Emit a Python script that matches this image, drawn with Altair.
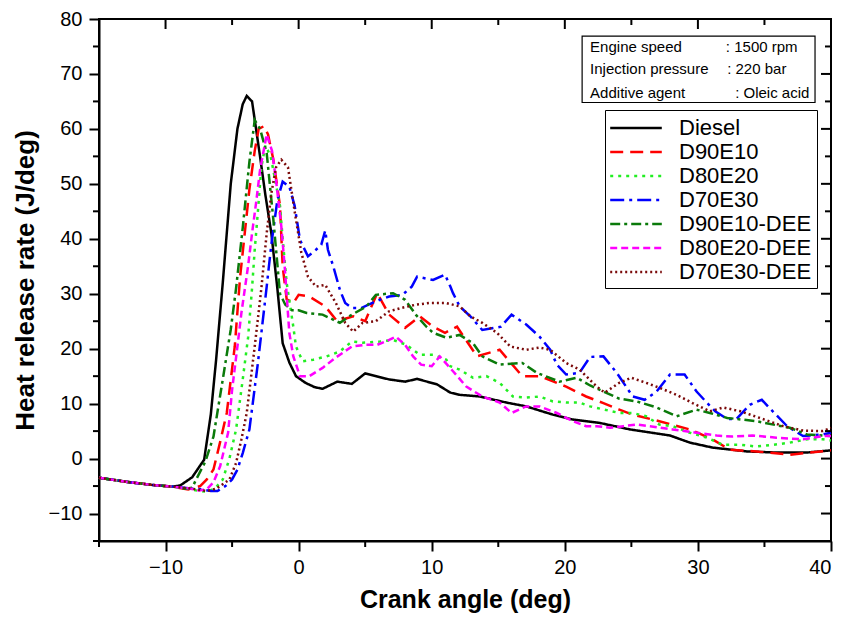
import altair as alt
import pandas as pd

series_names = ["Diesel", "D90E10", "D80E20", "D70E30", "D90E10-DEE", "D80E20-DEE", "D70E30-DEE"]
series_colors = ["#000000", "#ff0000", "#22ee22", "#0000ff", "#0a7a0a", "#ff00ff", "#7b0a0a"]
series_dashes = [[1, 0], [13, 7], [3, 5], [14, 5, 3, 5], [10, 4, 3, 4], [7, 4], [2, 3]]

diesel_x = [-15, -13, -11, -9.5, -8.9, -8, -7.1, -6.6, -6.2, -5.7, -5.1, -4.6, -4.2, -3.9, -3.5, -2.9, -2.5, -2.05, -1.6, -1.2, -0.7, -0.2, 0.5, 1.2, 1.8, 2.9, 4.0, 5.0, 6.8, 8.0, 8.9, 10.4, 11.4, 12.1, 13.6, 15.6, 17.1, 19.1, 20.6, 22.6, 24.9, 27.9, 29.4, 31.1, 33.7, 35.9, 38.2, 40]
diesel_y = [-3.5, -4.2, -4.8, -5.1, -4.9, -3.4, -0.2, 8, 18, 32, 50, 60, 64.5, 66, 65, 55, 48, 41, 31, 21, 17.5, 15, 13.8, 13, 12.7, 14, 13.6, 15.5, 14.4, 14, 14.5, 13.5, 12, 11.6, 11.3, 10.2, 9.5, 8, 7.1, 6.5, 5.3, 4.2, 2.9, 2, 1.3, 1.1, 1.1, 1.5]

d90e10_x = [-15, -13, -11, -9.5, -8.3, -7.4, -6.9, -6.4, -5.9, -5.4, -4.8, -4.4, -3.7, -3.3, -3.0, -2.6, -2.3, -1.9, -1.4, -1.2, -0.9, -0.4, 0, 0.8, 2.0, 2.9, 4.1, 5.0, 5.9, 6.8, 8.0, 9.1, 10.1, 11.0, 11.9, 13.4, 15.1, 16.8, 18.1, 20.1, 21.6, 22.9, 24.1, 25.1, 27.1, 29.4, 31.1, 32.4, 34.4, 36.9, 39.2, 40]
d90e10_y = [-3.5, -4.2, -4.8, -5.1, -5.6, -5.0, -3.8, -2, 3, 8.3, 20.4, 33, 49, 56, 60, 60.5, 59, 54.4, 46, 35, 29, 28.3, 29.8, 29.5, 27.7, 25, 25.9, 25, 30.1, 26.2, 23.8, 25.9, 24, 22.9, 24, 18.6, 19.8, 15, 15, 13.1, 11.3, 10.1, 8.9, 8, 6.8, 5.3, 3.5, 1.6, 1.3, 0.7, 1.3, 1.5]

d80e20_x = [-15, -13, -11, -9.5, -8.3, -7.5, -6.9, -6.3, -5.7, -5.2, -4.7, -4.2, -3.8, -3.5, -3.3, -3.06, -2.8, -2.5, -2.1, -1.4, -1.2, -0.9, -0.4, -0.2, 0.3, 1.1, 2.1, 3.1, 4.0, 4.8, 6.1, 7.1, 8.1, 9.1, 10.1, 11.1, 11.4, 12.1, 13.1, 14.1, 15.1, 16.1, 17.1, 18.1, 19.1, 20.1, 21.1, 21.9, 23.0, 24.1, 25.1, 26.1, 27.1, 28.1, 29.4, 30.7, 31.9, 33.2, 34.4, 35.6, 36.9, 38.2, 39.4, 40]
d80e20_y = [-3.5, -4.2, -4.8, -5.1, -5.5, -5.9, -6.0, -5.5, -3.8, 0, 5.3, 14.4, 22, 31, 38, 45, 53, 57, 55, 46, 40, 32, 24, 20.4, 17.7, 18, 18.6, 19.5, 21.3, 21.1, 21.3, 21.6, 20.7, 18.9, 18.9, 18, 16.8, 16.2, 14.7, 15, 13.8, 11.3, 11.1, 11.3, 10.4, 10.2, 10.2, 9.5, 8.9, 8.3, 8.3, 7.7, 6.2, 5.9, 4.7, 3.8, 2.5, 2.5, 2.2, 2.5, 2.9, 3.5, 3.5, 3.3]

d70e30_x = [-15, -13, -11, -9.5, -8.3, -7.3, -6.6, -6.1, -5.5, -5.0, -4.6, -4.2, -3.7, -3.06, -2.4, -2.05, -1.6, -1.2, -0.7, -0.3, 0.1, 0.7, 1.3, 1.7, 2.0, 2.2, 2.6, 3.1, 3.5, 4.0, 4.7, 5.5, 6.1, 6.8, 7.8, 8.5, 8.9, 10.1, 11.0, 11.4, 11.6, 12.1, 12.9, 13.8, 15.2, 16.0, 17.1, 18.1, 18.9, 19.4, 20.1, 21.1, 21.9, 22.9, 23.9, 24.6, 25.1, 26.0, 26.9, 27.9, 29.0, 29.9, 30.7, 31.3, 32.2, 32.9, 33.9, 34.8, 35.5, 36.7, 37.9, 39.4, 40]
d70e30_y = [-3.5, -4.2, -4.8, -5.1, -5.4, -5.6, -5.9, -5.9, -5.0, -3.8, -2.0, 1, 5.3, 17.4, 31.3, 39, 47, 50.4, 49.5, 46, 39.8, 36.8, 38, 38.9, 41.5, 38, 35, 30.7, 28.3, 27.4, 27.4, 28.3, 28.9, 29.5, 29.8, 31.3, 33.1, 32.5, 33.5, 31.3, 30.1, 27.7, 25.9, 23.4, 24, 26.2, 24.4, 22.2, 19.8, 17.1, 15.3, 15.6, 18.5, 18.6, 15.6, 13.1, 11.3, 10.7, 12.2, 15.3, 15.3, 12.2, 10.1, 8.6, 7.2, 7.2, 9.8, 10.7, 8.9, 5.9, 4.1, 4.4, 4.7]

d90e10dee_x = [-15, -13, -11, -9.5, -8.5, -8, -7.7, -7, -6.4, -5.7, -5.1, -4.7, -4.2, -3.7, -3.3, -2.9, -2.4, -1.9, -1.4, -1.0, -0.5, 0, 0.6, 1.8, 3.1, 4.0, 5.1, 5.8, 7.1, 8.0, 8.8, 9.6, 10.1, 11.1, 12.1, 13.1, 13.8, 15.1, 16.8, 17.9, 19.6, 20.9, 21.9, 22.9, 24.1, 25.4, 26.9, 28.4, 29.9, 30.9, 32.2, 34.4, 36.9, 38.2, 40]
d90e10dee_y = [-3.5, -4.2, -4.8, -5.1, -5.5, -5.3, -3.8, -0.5, 4, 14.4, 23.5, 31, 42, 54, 61.6, 60, 55.6, 43.5, 30, 28, 27, 27, 26.5, 26.2, 24.7, 26.2, 27.7, 29.8, 30.1, 28.9, 26.2, 24, 22.9, 22, 22.5, 21, 18.6, 17.1, 17.4, 15.6, 14, 14.7, 13.3, 12.2, 10.9, 10.4, 9.3, 7.7, 8.9, 8.3, 7.4, 6.8, 5.6, 4.4, 4.1]

d80e20dee_x = [-15, -13, -11, -9.5, -8.3, -7.5, -6.9, -6.4, -5.9, -5.3, -5.0, -4.6, -4.3, -3.8, -3.5, -3.2, -2.9, -2.4, -2.0, -1.7, -1.3, -1.05, -0.7, -0.4, 0.1, 0.8, 1.8, 2.8, 4.0, 5.0, 5.9, 6.8, 7.3, 8.0, 8.6, 9.2, 10.0, 10.6, 11.6, 12.6, 13.8, 15.1, 16.0, 17.1, 18.1, 19.4, 20.6, 21.6, 22.4, 23.4, 24.4, 25.4, 26.4, 28.1, 29.9, 31.4, 32.6, 34.1, 35.9, 37.9, 39.4, 40]
d80e20dee_y = [-3.5, -4.2, -4.8, -5.1, -5.4, -5.8, -5.6, -4.3, -1.4, 4.7, 12.5, 20.4, 26.5, 35, 41, 46.5, 52.5, 59, 56, 50.7, 42.2, 35, 22.9, 18.6, 15, 15, 16.5, 18.4, 20.4, 20.7, 20.7, 21.6, 22.2, 20.7, 18.6, 17.1, 16.8, 18.6, 15.9, 13.1, 11.3, 10.2, 8.3, 9.5, 9.5, 8.3, 6.8, 5.9, 5.9, 5.6, 5.9, 6.2, 5.9, 5.3, 4.7, 4.2, 4, 4.2, 3.8, 3.5, 4.1, 4.1]

d70e30dee_x = [-15, -13, -11, -9.5, -8.3, -7.5, -6.9, -6.2, -5.6, -5.2, -4.7, -4.3, -3.9, -3.3, -2.8, -2.4, -2.05, -1.7, -1.3, -0.8, -0.3, 0.2, 0.7, 1.3, 2.0, 2.8, 3.5, 4.1, 4.8, 5.8, 6.8, 7.7, 8.8, 9.8, 11.1, 12.1, 12.9, 13.8, 14.9, 15.9, 17.1, 18.1, 18.9, 20.1, 21.1, 22.4, 23.0, 24.1, 25.0, 26.1, 27.1, 28.4, 29.6, 30.9, 31.9, 33.2, 35.0, 36.4, 37.9, 39.4, 40]
d70e30dee_y = [-3.5, -4.2, -4.8, -5.1, -5.4, -5.7, -5.9, -5.5, -4.5, -3.8, -0.8, 3.5, 8.3, 20.4, 31, 41, 48.3, 53, 54.4, 53, 45, 37.5, 33.1, 31.3, 31.6, 28.3, 24.7, 23.1, 24.7, 25, 26.8, 27.4, 28, 28.3, 28.3, 27.7, 25.9, 24.7, 22.9, 20.4, 19.8, 20.2, 19.8, 17.4, 16.2, 13.1, 12, 13.8, 14.7, 13.8, 12.9, 11.6, 10.1, 8.6, 9.3, 8.6, 7.1, 5.9, 5.1, 5, 5.6]

x_major = [-10, 0, 10, 20, 30, 40]
x_minor = [-15, -5, 5, 15, 25, 35]
y_major = [-10, 0, 10, 20, 30, 40, 50, 60, 70, 80]
y_minor = [-15, -5, 5, 15, 25, 35, 45, 55, 65, 75]

info_left = ["Engine speed", "Injection pressure", "Additive agent"]
info_right = [": 1500 rpm", ": 220 bar", ": Oleic acid"]
info_y = [74.9, 70.9, 66.5]
info_left_x = 21.9
info_right_x = [32.1, 32.2, 32.8]
box_x = [21.3, 38.8]
box_y = [64.8, 76.9]

FONT = "Liberation Sans"
W, H = 732, 522

xs = [diesel_x, d90e10_x, d80e20_x, d70e30_x, d90e10dee_x, d80e20dee_x, d70e30dee_x]
ys = [diesel_y, d90e10_y, d80e20_y, d70e30_y, d90e10dee_y, d80e20dee_y, d70e30dee_y]
rows = []
for name, sx, sy in zip(series_names, xs, ys):
    for a, b in zip(sx, sy):
        rows.append({"series": name, "angle": a, "hrr": b})
df = pd.DataFrame(rows)

xscale = alt.Scale(domain=[-15, 40], nice=False, zero=False)
yscale = alt.Scale(domain=[-15, 80], nice=False, zero=False)

legend = alt.Legend(
    title=None, orient="none", legendX=506, legendY=91,
    symbolType="M-2.2,0H2.2", symbolSize=550, symbolStrokeWidth=2.5,
    symbolOffset=13, labelOffset=30, labelFontSize=22, labelFont=FONT,
    labelColor="black", padding=5, rowPadding=0, strokeColor="black",
    fillColor="white", labelLimit=400,
)

lines = alt.Chart(df).mark_line(strokeWidth=2.5).encode(
    x=alt.X("angle:Q", scale=xscale, axis=alt.Axis(
        title="Crank angle (deg)", values=x_major, tickSize=10, tickWidth=2,
        tickColor="black", domainColor="black", domainWidth=2, labelFontSize=20,
        labelFont=FONT, labelColor="black", labelPadding=6, labelFlush=True,
        labelOverlap=False, titleFont=FONT, titleFontSize=25, titleFontWeight="bold",
        titleColor="black", titlePadding=10, grid=False)),
    y=alt.Y("hrr:Q", scale=yscale, axis=alt.Axis(
        title="Heat release rate (J/deg)", values=y_major, tickSize=10, tickWidth=2,
        tickColor="black", domainColor="black", domainWidth=2, labelFontSize=20,
        labelFont=FONT, labelColor="black", labelPadding=7, labelFlush=False,
        labelOverlap=False, titleFont=FONT, titleFontSize=26, titleFontWeight="bold",
        titleColor="black", titlePadding=10, grid=False)),
    color=alt.Color("series:N", scale=alt.Scale(domain=series_names, range=series_colors), legend=legend),
    strokeDash=alt.StrokeDash("series:N", scale=alt.Scale(domain=series_names, range=series_dashes), legend=legend),
)

box_df = pd.DataFrame({"angle": [box_x[0]], "angle2": [box_x[1]], "hrr": [box_y[0]], "hrr2": [box_y[1]]})
box = alt.Chart(box_df).mark_rect(fill="white", stroke="black", strokeWidth=1.2).encode(
    x="angle:Q", x2="angle2:Q", y="hrr:Q", y2="hrr2:Q")

info_df = pd.DataFrame({
    "angle": [info_left_x] * 3 + info_right_x,
    "hrr": info_y + info_y,
    "label": info_left + info_right,
})
info = alt.Chart(info_df).mark_text(align="left", baseline="middle", fontSize=15, font=FONT, color="black").encode(
    x="angle:Q", y="hrr:Q", text="label:N")

xmaj = pd.DataFrame({"angle": x_major})
xmin = pd.DataFrame({"angle": x_minor})
ymaj = pd.DataFrame({"hrr": y_major})
ymin = pd.DataFrame({"hrr": y_minor})

tick_style = dict(color="black", strokeWidth=2)
bottom_minor = alt.Chart(xmin).mark_rule(**tick_style).encode(x="angle:Q", y=alt.value(H), y2=alt.value(H + 6))
left_minor = alt.Chart(ymin).mark_rule(**tick_style).encode(y="hrr:Q", x=alt.value(0), x2=alt.value(-6))
right_major = alt.Chart(ymaj).mark_rule(**tick_style).encode(y="hrr:Q", x=alt.value(W), x2=alt.value(W - 10))
right_minor = alt.Chart(ymin).mark_rule(**tick_style).encode(y="hrr:Q", x=alt.value(W), x2=alt.value(W - 6))
top_major = alt.Chart(xmaj).mark_rule(**tick_style).encode(x="angle:Q", y=alt.value(0), y2=alt.value(10))
top_minor = alt.Chart(xmin).mark_rule(**tick_style).encode(x="angle:Q", y=alt.value(0), y2=alt.value(6))

chart = alt.layer(
    lines, box, info, bottom_minor, left_minor, right_major, right_minor, top_major, top_minor
).properties(
    width=W, height=H,
    autosize=alt.AutoSizeParams(type="none"),
    padding={"left": 91, "top": 11, "right": 8, "bottom": 73},
).configure_view(stroke="black", strokeWidth=2)

chart.save("out.html", embed_options={"renderer": "svg", "actions": False})
